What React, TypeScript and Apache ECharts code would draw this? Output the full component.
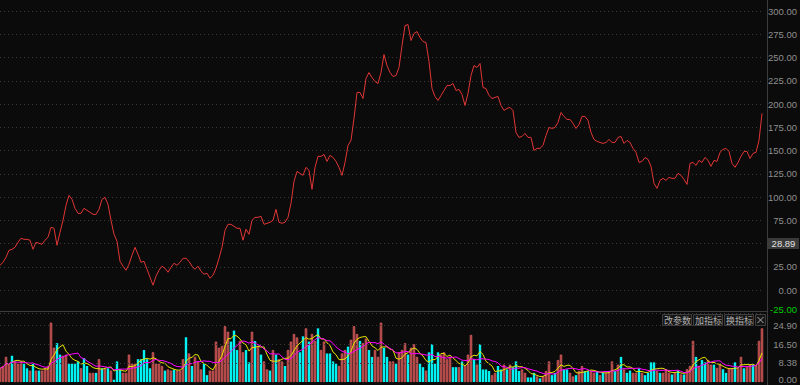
import React, { useEffect, useRef } from 'react';
import * as echarts from 'echarts';

// ---- data ----
const price = [
  26.8, 30.0, 35.4, 42.9, 44.0, 46.1, 51.5, 55.8, 54.7, 54.7,
  53.7, 44.0, 51.5, 50.4, 49.4, 53.7, 56.9, 67.6, 66.5, 48.3,
  62.2, 75.1, 91.2, 101.9, 97.6, 88.0, 82.6, 82.6, 88.0, 85.8,
  83.7, 81.5, 81.5, 86.9, 97.6, 99.8, 92.3, 75.1, 60.1, 52.6,
  31.1, 25.8, 21.5, 27.9, 37.6, 46.1, 38.6, 30.0, 31.1, 22.5,
  13.9, 5.4, 15.0, 21.5, 25.8, 23.6, 19.3, 24.7, 29.0, 26.8,
  30.0, 34.3, 34.3, 31.1, 25.8, 22.5, 25.8, 20.4, 17.2, 18.2,
  12.9, 16.1, 23.6, 34.3, 46.1, 64.4, 70.8, 70.8, 68.7, 66.5,
  66.5, 53.7, 65.5, 60.1, 75.1, 78.3, 78.3, 79.4, 70.8, 71.9,
  73.0, 75.1, 86.9, 73.0, 71.9, 73.0, 78.3, 93.4, 117.0, 127.7,
  125.5, 123.4, 132.0, 128.8, 108.4, 132.0, 143.8, 143.8, 145.9, 138.4,
  144.9, 142.7, 138.4, 132.0, 123.4, 137.3, 155.6, 161.0, 184.6, 212.5,
  212.5, 206.0, 227.5, 233.9, 228.5, 224.3, 222.1, 233.9, 253.2, 241.4,
  233.9, 229.6, 230.7, 239.3, 262.9, 284.3, 285.4, 268.3, 275.8, 277.9,
  271.5, 267.2, 266.1, 245.7, 216.7, 208.2, 203.9, 209.2, 214.6, 220.0,
  220.0, 222.1, 214.6, 215.7, 210.3, 198.5, 211.4, 230.7, 241.4, 239.3,
  243.6, 217.8, 216.7, 209.2, 206.0, 207.1, 208.2, 198.5, 193.1, 195.3,
  196.4, 193.1, 169.5, 164.2, 165.2, 168.5, 164.2, 164.2, 150.2, 152.4,
  152.4, 155.6, 166.3, 174.9, 173.8, 174.9, 180.3, 191.0, 186.7, 183.5,
  183.5, 179.2, 173.8, 178.1, 186.7, 186.7, 182.4, 169.5, 162.0, 159.9,
  158.8, 157.7, 158.8, 162.0, 158.8, 158.8, 164.2, 165.2, 157.7, 161.0,
  158.8, 152.4, 148.1, 137.3, 138.4, 142.7, 140.6, 133.1, 114.8, 109.4,
  118.0, 120.2, 118.0, 121.2, 120.2, 120.2, 125.5, 123.4, 119.1, 113.7,
  136.3, 137.3, 134.1, 139.5, 137.3, 142.7, 139.5, 133.1, 139.5, 138.4,
  148.1, 151.3, 152.4, 149.1, 136.3, 132.0, 137.3, 143.8, 149.1, 149.1,
  141.6, 147.0, 148.1, 161.0, 190.0,
];

const volume = [
  6, 7, 11, 8, 11.5, 9, 8, 9, 8, 6,
  5, 8, 5, 5, 5, 6, 7, 26, 15, 17,
  12, 11.5, 12, 8, 8, 8, 9, 6, 10.5, 7,
  4, 4, 4, 10, 6, 6, 6, 5, 1, 9,
  5.5, 4, 4, 12, 8, 8, 10, 10, 14, 10,
  6, 13, 8, 8, 7, 5, 5.5, 5, 5.5, 5,
  5, 10, 19.6, 12.5, 7, 11, 9, 5.5, 8, 3,
  5, 5, 17.7, 15, 15.8, 24.4, 22, 17.7, 22.5, 14,
  18, 13, 14, 8.6, 22, 18, 15.8, 12, 9, 5.5,
  5, 14, 12, 10, 9, 7, 14, 17.7, 21, 19.5,
  13, 20, 23.5, 17.7, 21, 18, 23.5, 14, 17.7, 12.5,
  12.5, 9, 8, 7, 12.5, 14, 15.5, 18.5, 24.4, 21,
  18, 17, 19, 14, 11, 14, 11, 26, 15, 11,
  9, 9, 8, 13, 14, 17, 12, 15, 16.5, 11,
  8, 6.5, 5, 13, 16.5, 8, 13, 12, 13, 10,
  11, 6.5, 6.5, 6.5, 9, 7, 12, 20.6, 10, 7.6,
  16.5, 5.5, 5.5, 4.8, 3, 4, 7, 5.5, 7.6, 5.5,
  7.6, 6.5, 9, 4.8, 5.5, 4, 2, 2, 4, 2.4,
  1.6, 2.4, 4.8, 9, 3, 4, 9.6, 12, 5.5, 5.5,
  4, 2.4, 3, 4.8, 7, 4.8, 4.8, 4.8, 4, 4.8,
  3, 4, 4, 4.8, 9, 4.8, 7.6, 11, 5.5, 4,
  5, 4, 4, 6, 4, 3, 4, 8.6, 8.6, 4.8,
  4, 4, 5.6, 4, 3.3, 4, 5, 3.3, 3.3, 5.6,
  7, 18, 11, 7, 9.6, 8.6, 9.6, 7.6, 7.6, 6.2,
  7.6, 5.6, 4, 6, 6, 8.6, 6, 11, 6, 7,
  7.6, 7.6, 7, 18, 23.5,
];

// r = up (red), c = down (cyan)
const volumeDir = (
  'rrrrcrrrcc' + 'rcrcrrrrrc' + 'crrccccrcc' + 'rrcrcrcrcc' + 'crrrrrcccc' +
  'crrrrcrrcr' + 'rrcrcrrrcc' + 'rrrrrrrccc' + 'rrccrcrcrr' + 'crcrrcrrrr' +
  'ccrcrrcrrc' + 'cccrrrcrrr' + 'crrccrrrcc' + 'rrcrrrcrrr' + 'ccrccccrrr' +
  'rccrcrrrcr' + 'ccccrrccrc' + 'rcccrrcccr' + 'crrrccrrcc' + 'rrcrrccrrc' +
  'rcrrrcrcrc' + 'crrcrccccr' + 'crrrcrcrcr' + 'rrcrccrrcr' + 'rccrrcrrcr' +
  'rcrrr'
).split('');

const priceMin = -25;
const priceMax = 300;
const priceStep = 25;
const priceLabelHidden = 50; // covered by the last-price box in the reference
const volumeMax = 28.9;
const volumeTicks = [0, 8.38, 16.5, 24.9];
const lastPriceLabel = '28.89';
const bottomPriceLabel = '-25.00';
const buttonLabels = ['改参数', '加指标', '换指标'];

function movingAverage(arr: number[], n: number): number[] {
  return arr.map((_, i) => {
    const s = Math.max(0, i - n + 1);
    let sum = 0;
    for (let k = s; k <= i; k++) sum += arr[k];
    return +(sum / (i - s + 1)).toFixed(3);
  });
}

const AXIS_X = 767.5;
const LABEL_FONT = '9.5px "Liberation Sans", Arial, sans-serif';

export default function App() {
  const ref = useRef<HTMLDivElement>(null);

  useEffect(() => {
    document.body.style.margin = '0';
    if (!ref.current) return;
    const chart = echarts.init(ref.current, null, { renderer: 'svg' });
    const idx = price.map((_, i) => i);
    const ma5 = movingAverage(volume, 5);
    const ma10 = movingAverage(volume, 10);

    const btnW = 29;
    const btnGap = 2;
    const btnX0 = 662;
    const btnY = 314;
    const btnH = 11;
    const buttons: any[] = buttonLabels.map((t, i) => ({
      type: 'group',
      children: [
        {
          type: 'rect',
          shape: { x: btnX0 + i * (btnW + btnGap) + 0.5, y: btnY + 0.5, width: btnW, height: btnH },
          style: { fill: '#161616', stroke: '#3e3e3e', lineWidth: 1 },
        },
        {
          type: 'text',
          x: btnX0 + i * (btnW + btnGap) + btnW / 2 + 1,
          y: btnY + btnH / 2 + 1,
          style: {
            text: t,
            fill: '#b0b0b0',
            font: '9px "Noto Sans CJK SC", sans-serif',
            align: 'center',
            verticalAlign: 'middle',
          },
        },
      ],
    }));
    const closeX = btnX0 + 3 * (btnW + btnGap);
    buttons.push({
      type: 'group',
      children: [
        {
          type: 'rect',
          shape: { x: closeX + 0.5, y: btnY + 0.5, width: 10, height: btnH },
          style: { fill: '#161616', stroke: '#3e3e3e', lineWidth: 1 },
        },
        {
          type: 'line',
          shape: { x1: closeX + 2.5, y1: btnY + 3, x2: closeX + 8.5, y2: btnY + 9 },
          style: { stroke: '#a8a8a8', lineWidth: 1 },
        },
        {
          type: 'line',
          shape: { x1: closeX + 8.5, y1: btnY + 3, x2: closeX + 2.5, y2: btnY + 9 },
          style: { stroke: '#a8a8a8', lineWidth: 1 },
        },
      ],
    });

    const option: any = {
      animation: false,
      backgroundColor: '#0b0b0b',
      grid: [
        { left: 0, right: 38, top: 11, height: 302.5 },
        { left: 0, right: 38, top: 316, bottom: 3 },
      ],
      xAxis: [
        { type: 'category', gridIndex: 0, data: idx, boundaryGap: false, show: false },
        { type: 'category', gridIndex: 1, data: idx, boundaryGap: false, show: false },
      ],
      yAxis: [
        {
          type: 'value',
          gridIndex: 0,
          position: 'right',
          offset: 5,
          min: priceMin,
          max: priceMax,
          interval: priceStep,
          axisLine: { show: false },
          axisTick: { show: false },
          axisLabel: {
            color: '#8e8e8e',
            fontSize: 9.5,
            fontFamily: '"Liberation Sans", Arial, sans-serif',
            align: 'right',
            margin: 30,
            showMinLabel: false,
            formatter: (v: number) => (v === priceLabelHidden ? '' : v.toFixed(2)),
          },
          splitLine: { show: true, lineStyle: { color: '#3a3a3a', type: [1, 3], width: 1 } },
        },
        {
          type: 'value',
          gridIndex: 1,
          position: 'right',
          offset: 5,
          min: 0,
          max: volumeMax,
          axisLine: { show: false },
          axisTick: { show: false },
          splitLine: { show: false },
          axisLabel: {
            color: '#8e8e8e',
            fontSize: 9.5,
            fontFamily: '"Liberation Sans", Arial, sans-serif',
            align: 'right',
            margin: 30,
            customValues: volumeTicks,
            formatter: (v: number) => (v === 0 ? '{z|0.00}' : v.toFixed(2)),
            rich: { z: { color: '#8e8e8e', fontSize: 9.5, padding: [0, 0, 6, 0] } },
          },
        },
      ],
      series: [
        {
          type: 'line',
          xAxisIndex: 0,
          yAxisIndex: 0,
          data: price,
          symbol: 'none',
          lineStyle: { color: '#e23636', width: 1 },
        },
        {
          type: 'bar',
          xAxisIndex: 1,
          yAxisIndex: 1,
          barWidth: 2.4,
          data: volume.map((v, i) => ({
            value: v,
            itemStyle:
              volumeDir[i] === 'r'
                ? { color: '#a84444', borderColor: '#e86464', borderWidth: 0.6 }
                : { color: '#00f2f2' },
          })),
          markLine: {
            silent: true,
            symbol: ['none', 'none'],
            label: { show: false },
            lineStyle: { color: '#3a3a3a', type: [1, 3], width: 1 },
            data: volumeTicks.filter((v) => v > 0).map((v) => ({ yAxis: v })),
          },
        },
        {
          type: 'line',
          xAxisIndex: 1,
          yAxisIndex: 1,
          data: ma5,
          symbol: 'none',
          lineStyle: { color: '#e4e400', width: 1 },
        },
        {
          type: 'line',
          xAxisIndex: 1,
          yAxisIndex: 1,
          data: ma10,
          symbol: 'none',
          lineStyle: { color: '#ff00ff', width: 1 },
        },
      ],
      graphic: [
        {
          type: 'line',
          shape: { x1: AXIS_X, y1: 0, x2: AXIS_X, y2: 385 },
          style: { stroke: '#3c3c3c', lineWidth: 1 },
        },
        {
          type: 'line',
          shape: { x1: 0, y1: 311.5, x2: AXIS_X, y2: 311.5 },
          style: { stroke: '#3c3c3c', lineWidth: 1 },
        },
        {
          type: 'text',
          x: 797,
          y: 309,
          style: {
            text: bottomPriceLabel,
            fill: '#00cc00',
            font: LABEL_FONT,
            align: 'right',
            verticalAlign: 'middle',
          },
        },
        {
          type: 'rect',
          shape: { x: 768, y: 238, width: 31, height: 11 },
          style: { fill: '#3a3a3a' },
        },
        {
          type: 'text',
          x: 783.5,
          y: 243.5,
          style: {
            text: lastPriceLabel,
            fill: '#e2e2e2',
            font: LABEL_FONT,
            align: 'center',
            verticalAlign: 'middle',
          },
        },
        ...buttons,
      ],
    };

    chart.setOption(option);
    return () => chart.dispose();
  }, []);

  return (
    <div
      ref={ref}
      style={{ position: 'fixed', left: 0, top: 0, width: 800, height: 385, background: '#0b0b0b' }}
    />
  );
}
